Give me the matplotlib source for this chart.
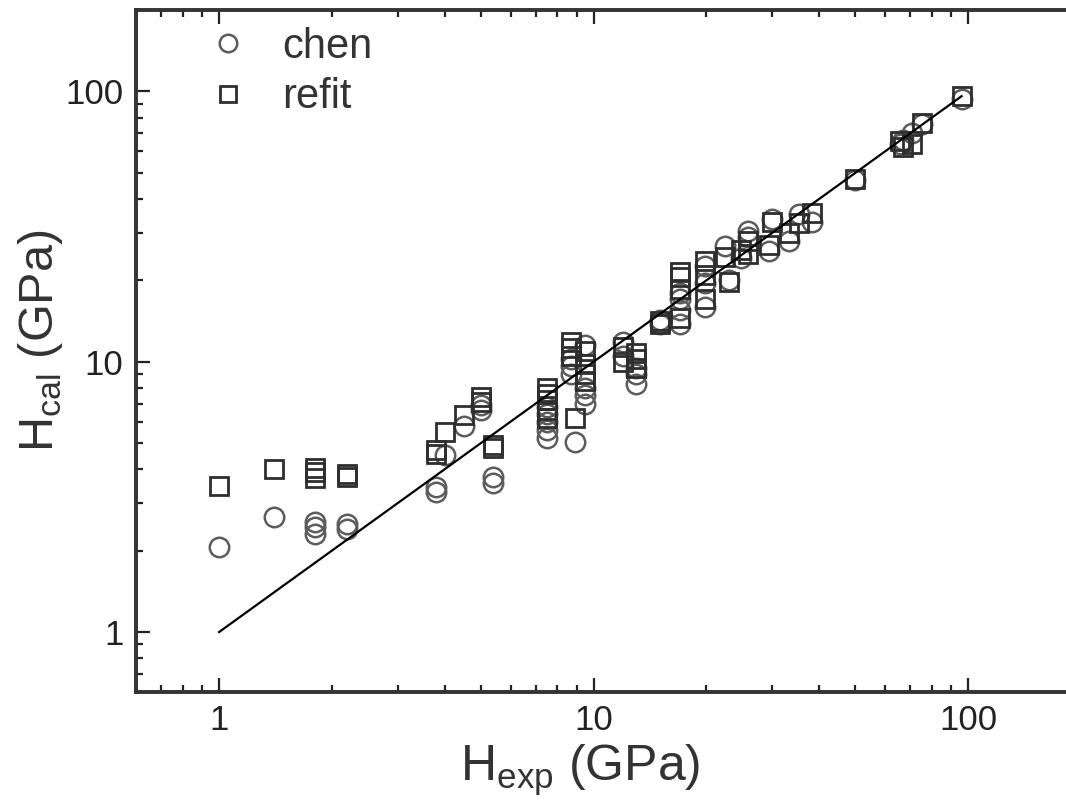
import matplotlib
matplotlib.use("Agg")
import matplotlib.pyplot as plt
from matplotlib.ticker import LogLocator, FixedLocator, FixedFormatter, NullFormatter

plt.rcParams['font.family'] = ['Liberation Sans', 'DejaVu Sans']
plt.rcParams['mathtext.fontset'] = 'custom'
plt.rcParams['mathtext.rm'] = 'Liberation Sans'

# experimental hardness (GPa)
h_exp = [1.0, 1.4, 1.8, 1.8, 1.8, 2.2, 2.2,
         3.8, 3.8, 4.0, 4.5, 5.0, 5.0, 5.4, 5.4,
         7.5, 7.5, 7.5, 7.5, 7.5, 8.9,
         8.7, 8.7, 8.7, 9.5, 9.5, 9.5, 9.5,
         12.0, 12.0, 13.0, 13.0, 13.0,
         15.0, 15.0, 17.0, 17.0, 17.0, 17.0,
         19.8, 19.8, 19.8, 23.0, 22.4, 24.8, 25.9, 25.9,
         29.4, 29.9, 33.3, 35.3, 38.3,
         50.0, 65.8, 67.0, 70.9, 75.4, 96.0]
# calculated hardness, Chen model
h_chen = [2.07, 2.67, 2.30, 2.45, 2.55, 2.40, 2.50,
          3.30, 3.45, 4.50, 5.80, 6.60, 6.90, 3.55, 3.75,
          5.2, 5.6, 6.0, 6.4, 6.8, 5.05,
          9.0, 9.6, 10.2, 7.0, 7.5, 8.0, 11.5,
          11.8, 10.5, 8.3, 9.0, 9.5,
          13.8, 14.3, 13.8, 15.5, 17.0, 18.0,
          15.9, 22.5, 19.5, 20.0, 26.8, 24.2, 30.5, 29.0,
          25.7, 33.7, 28.0, 35.2, 33.0,
          47.0, 64.0, 66.0, 70.0, 76.0, 94.0]
# calculated hardness, refitted model
h_refit = [3.48, 4.02, 3.70, 3.90, 4.05, 3.75, 3.85,
           4.55, 4.70, 5.50, 6.35, 7.40, 7.10, 4.80, 4.90,
           6.2, 6.6, 7.2, 7.6, 8.0, 6.2,
           11.2, 10.5, 11.8, 8.5, 9.0, 9.8, 11.0,
           11.3, 10.0, 9.5, 10.2, 10.8,
           14.2, 13.8, 14.5, 18.5, 20.5, 21.5,
           17.0, 23.6, 21.0, 19.8, 24.5, 26.0, 28.0, 25.0,
           27.0, 33.0, 30.0, 32.5, 35.5,
           47.5, 65.5, 62.0, 64.0, 76.5, 96.0]
# y = x reference line
line_x = [1.0, 96.0]
line_y = [1.0, 96.0]

x_ticks = [1, 10, 100]
x_ticklabels = ['1', '10', '100']
y_ticks = [1, 10, 100]
y_ticklabels = ['1', '10', '100']

fig = plt.figure(figsize=(10.66, 8.11), dpi=100)
ax = fig.add_axes([136/1066, 1 - 692/811, 945/1066, 682/811])

ax.plot(h_exp, h_chen, linestyle='none', marker='o', markersize=14,
        markerfacecolor='none', markeredgecolor='#5c5c5c', markeredgewidth=1.8,
        label='chen', zorder=2)
ax.plot(h_exp, h_refit, linestyle='none', marker='s', markersize=12.5,
        markerfacecolor='none', markeredgecolor='#2e2e2e', markeredgewidth=2.0,
        label='refit', zorder=3)
ax.plot(line_x, line_y, color='black', linewidth=1.6, zorder=4)

ax.set_xscale('log')
ax.set_yscale('log')
ax.set_xlim(0.6, 200)
ax.set_ylim(0.6, 200)

ax.xaxis.set_major_locator(FixedLocator(x_ticks))
ax.xaxis.set_major_formatter(FixedFormatter(x_ticklabels))
ax.yaxis.set_major_locator(FixedLocator(y_ticks))
ax.yaxis.set_major_formatter(FixedFormatter(y_ticklabels))
ax.xaxis.set_minor_locator(LogLocator(base=10, subs=range(2, 10)))
ax.yaxis.set_minor_locator(LogLocator(base=10, subs=range(2, 10)))
ax.xaxis.set_minor_formatter(NullFormatter())
ax.yaxis.set_minor_formatter(NullFormatter())

ax.tick_params(which='both', direction='in', top=True, right=True,
               colors='#222222', labelsize=25, width=1.6)
ax.tick_params(which='major', length=10, pad=9)
ax.tick_params(which='minor', length=5)
for s in ax.spines.values():
    s.set_linewidth(2.8)
    s.set_color('#333333')

ax.set_xlabel(r'H$_{\mathregular{exp}}$ (GPa)', fontsize=36, color='#333333', labelpad=4)
ax.set_ylabel(r'H$_{\mathregular{cal}}$ (GPa)', fontsize=35, color='#333333', labelpad=0)
ax.xaxis.label.set_x(0.47)
ax.yaxis.label.set_y(0.515)

leg = ax.legend(loc='upper left', bbox_to_anchor=(0.058, 1.0), frameon=False,
                fontsize=30, handletextpad=0.8, labelspacing=0.25, handlelength=1.0,
                borderaxespad=0, markerscale=0.9)
for t in leg.get_texts():
    t.set_color('#333333')

fig.savefig('out.png', dpi=100)
